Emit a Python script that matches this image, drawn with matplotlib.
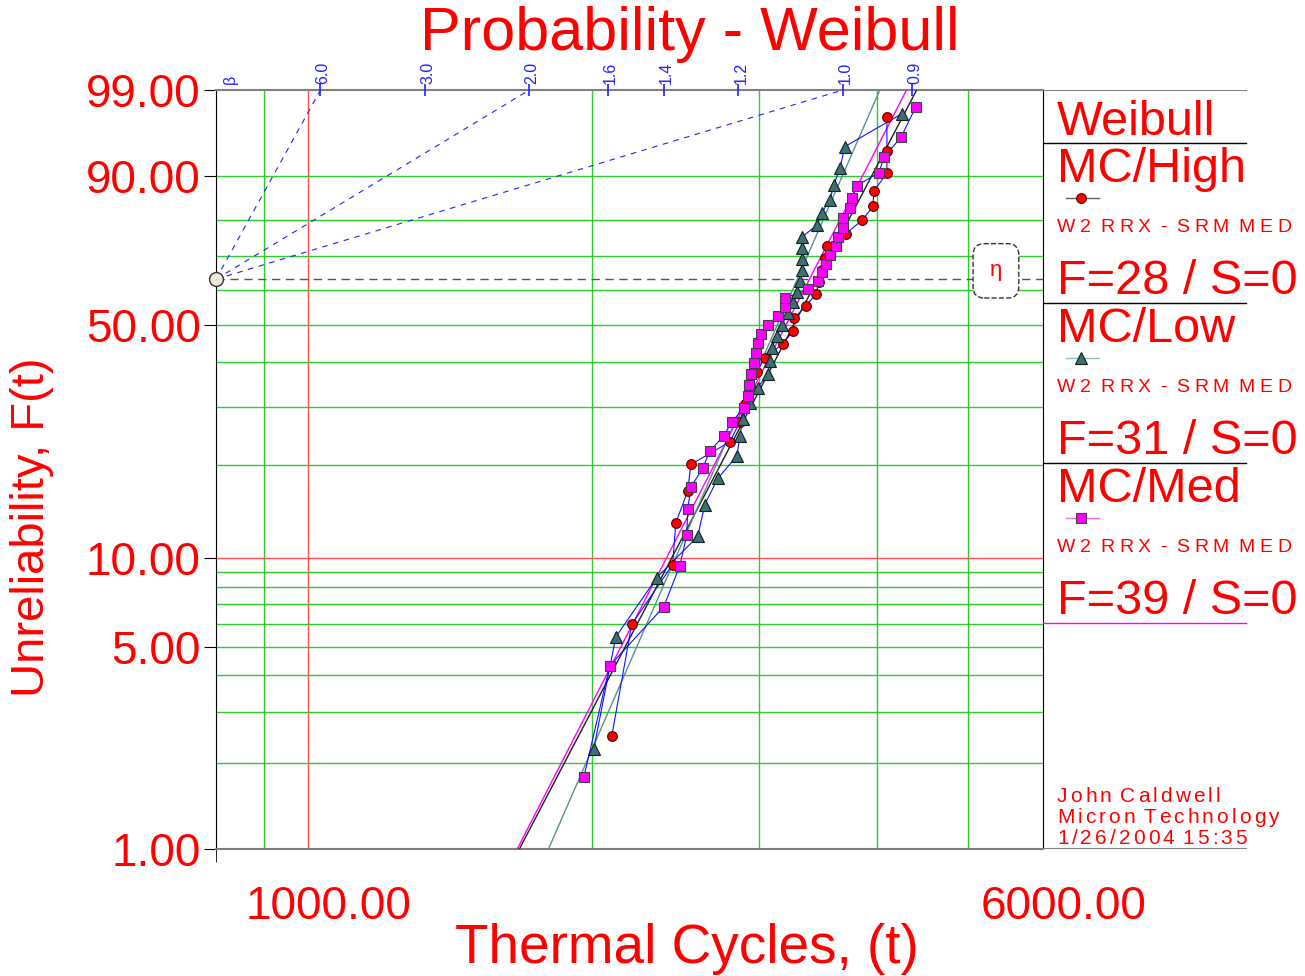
import numpy as np
import matplotlib
matplotlib.use('Agg')
import matplotlib.pyplot as plt
from matplotlib.transforms import ScaledTranslation

plt.rcParams['font.family'] = ['Liberation Sans', 'DejaVu Sans']

# failure times in thermal cycles, sorted
high_cycles = [2098, 2203, 2434, 2452, 2525, 2544, 2798, 2867, 2901, 2937,
               2988, 3047, 3183, 3263, 3270, 3366, 3450, 3475, 3500, 3526,
               3543, 3711, 3859, 3964, 3974, 4102, 4102, 4102]
low_cycles = [2008, 2119, 2342, 2587, 2632, 2717, 2846, 2867, 2887, 2937,
              2995, 3069, 3084, 3099, 3137, 3176, 3223, 3263, 3294, 3318,
              3334, 3334, 3334, 3334, 3458, 3500, 3570, 3604, 3658, 3703,
              4255]
med_cycles = [1960, 2088, 2381, 2476, 2519, 2525, 2544, 2619, 2664, 2757,
              2812, 2894, 2923, 2930, 2944, 2966, 2980, 2995, 3017, 3069,
              3145, 3199, 3199, 3381, 3468, 3502, 3535, 3570, 3622, 3640,
              3686, 3686, 3748, 3767, 3813, 4023, 4073, 4245, 4403]

# fitted Weibull lines (beta, eta)
high_fit = (6.33, 3465)
low_fit = (7.59, 3297)
med_fit = (6.46, 3397)

beta_scale = [6.0, 3.0, 2.0, 1.6, 1.4, 1.2, 1.0, 0.9]
beta_lines = [6.0, 2.0, 1.0]
y_ticks = [1, 5, 10, 50, 90, 99]
y_grid = [2, 3, 4, 5, 6, 7, 8, 9, 20, 30, 40, 50, 60, 70, 80, 90]
x_grid = [900, 2000, 3000, 4000, 5000]

RED = '#ff0000'
GREEN = '#2ecc2e'


def median_ranks(n):
    i = np.arange(1, n + 1)
    return 100 * (i - 0.3) / (n + 0.4)


def weib_fwd(F):
    F = np.clip(np.asarray(F, dtype=float), 1e-9, 100 - 1e-9)
    return np.log(-np.log(1 - F / 100))


def weib_inv(Y):
    Y = np.clip(np.asarray(Y, dtype=float), -30, 4)
    return 100 * (1 - np.exp(-np.exp(Y)))


def spaced_text(axis, x, y, s, gap, space, **kw):
    # draw a string letter by letter to get the wide letter spacing
    t = axis.text(x, y, s[0], va='bottom', **kw)
    extra = 0
    for ch in s[1:]:
        if ch == ' ':
            extra += space
            continue
        t = axis.annotate(ch, xy=(1, 0), xycoords=t, xytext=(gap + extra, 0),
                          textcoords='offset points', va='bottom',
                          annotation_clip=False, **kw)
        extra = 0


fig = plt.figure(figsize=(13.05, 9.76), dpi=100)
ax = fig.add_axes([216 / 1305, 1 - 849 / 976, 827 / 1305, 759 / 976])
ax.set_xscale('log')
ax.set_yscale('function', functions=(weib_fwd, weib_inv))
ax.set_xlim(800, 6000)
ax.set_ylim(1, 99)

# grid
for g in x_grid:
    ax.axvline(g, color=GREEN, lw=1, zorder=1)
ax.axvline(1000, color='#ff5050', lw=1, zorder=1)
for g in y_grid:
    ax.axhline(g, color=GREEN, lw=1, zorder=1)
ax.axhline(10, color='#ff5050', lw=1, zorder=1)

# eta line and box
F_eta = float(weib_inv(0))
ax.axhline(F_eta, color='#555555', lw=1, ls=(0, (6, 4)), zorder=2)
ax.annotate('η', xy=(5350, F_eta), xytext=(0, 6), textcoords='offset points',
            ha='center', va='center', color=RED, fontsize=16,
            bbox=dict(boxstyle='round,pad=0.75,rounding_size=0.5', fc='white',
                      ec='#333333', ls='--', lw=1), zorder=3)

# beta scale along the top
t0 = 800
Y99 = float(weib_fwd(99))
for b in beta_scale:
    tb = t0 * np.exp(Y99 / b)
    ax.plot([tb], [99], marker='|', ms=9, mew=1.2, color='#2020ff', clip_on=False, zorder=5)
    ax.annotate(f'{b:.1f}', xy=(tb, 99), xytext=(2, 4), textcoords='offset points',
                rotation=90, ha='center', va='bottom', color='#2020ff', fontsize=11.5,
                annotation_clip=False)
    if b in beta_lines:
        ax.plot([t0, tb], [F_eta, 99], color='#2020ff', lw=0.8, ls=(0, (5, 5)), zorder=2)
ax.annotate('β', xy=(t0, 99), xytext=(10, 4), textcoords='offset points',
            rotation=90, ha='center', va='bottom', color='#2020ff', fontsize=11.5,
            annotation_clip=False)
ax.plot([t0], [F_eta], 'o', ms=10, mfc='#ece9d8', mec='#333333', clip_on=False, zorder=6)

# fitted lines
F_ends = np.array([0.5, 99.5])
for (beta, eta), col in [(med_fit, '#ff00ff'), (high_fit, '#202020'), (low_fit, '#5a9090')]:
    t_ends = eta * (-np.log(1 - F_ends / 100)) ** (1 / beta)
    ax.plot(t_ends, F_ends, color=col, lw=1, zorder=3)

# data
series = [
    (high_cycles, dict(marker='o', ms=7, mfc='#ff0000', mec='#500000')),
    (low_cycles, dict(marker='^', ms=9, mfc='#3d6f73', mec='#102020')),
    (med_cycles, dict(marker='s', ms=7, mfc='#ff00ff', mec='#404040')),
]
for cyc, mk in series:
    ranks = median_ranks(len(cyc))
    ax.plot(cyc, ranks, color='#1010ff', lw=0.8, zorder=4)
for cyc, mk in series:
    ranks = median_ranks(len(cyc))
    ax.plot(cyc, ranks, ls='none', mew=0.8, zorder=5, **mk)

# axes styling
for side in ['left', 'right']:
    ax.spines[side].set_color('black')
for side in ['top', 'bottom']:
    ax.spines[side].set_color('#808080')
    ax.spines[side].set_linewidth(1.5)
ax.set_yticks(y_ticks)
ax.set_yticklabels([f'{v:.2f}' for v in y_ticks])
ax.yaxis.set_minor_locator(matplotlib.ticker.NullLocator())
ax.tick_params(axis='y', which='major', length=9, color='black', labelcolor=RED,
               labelsize=33, pad=2)
ax.set_xticks([1000, 6000])
ax.set_xticklabels(['1000.00', '6000.00'])
ax.set_xticks([800, 6000], minor=True)
ax.xaxis.set_minor_formatter(matplotlib.ticker.NullFormatter())
ax.tick_params(axis='x', which='major', length=0, labelcolor=RED, labelsize=33, pad=26)
ax.tick_params(axis='x', which='minor', length=9, color='black')
for lbl in ax.get_xticklabels():
    lbl.set_transform(lbl.get_transform() + ScaledTranslation(0.21, 0, fig.dpi_scale_trans))

fig.text(690 / 1305, 1 - 50 / 976, 'Probability - Weibull', color=RED, fontsize=44,
         ha='center', va='baseline')
fig.text(687 / 1305, 1 - 963 / 976, 'Thermal Cycles, (t)', color=RED, fontsize=39.5,
         ha='center', va='baseline')
fig.text(32 / 1305, 1 - 527 / 976, 'Unreliability, F(t)', color=RED, fontsize=34,
         ha='center', va='center', rotation=90)

# legend panel on the right
lax = fig.add_axes([1043 / 1305, 1 - 849 / 976, 262 / 1305, 759 / 976])
lax.set_xlim(0, 262)
lax.set_ylim(759, 0)
lax.axis('off')
lax.plot([0, 203], [0, 0], color='#808080', lw=1.5)
lax.plot([0, 203], [759, 759], color='#808080', lw=1.5)
lax.text(14, 45, 'Weibull', color=RED, fontsize=35, va='baseline')
lax.plot([0, 203], [53, 53], color='black', lw=1)
entries = [
    ('MC/High', 28, '#606060', series[0][1], 'black'),
    ('MC/Low', 31, '#8fbcbc', series[1][1], 'black'),
    ('MC/Med', 39, '#ff66ff', series[2][1], '#ff00ff'),
]
for k, (name, nf, lcol, mk, sepcol) in enumerate(entries):
    s = 53 + 160 * k
    lax.text(14, s + 39, name, color=RED, fontsize=35, va='baseline')
    lax.plot([23, 56], [s + 55, s + 55], color=lcol, lw=1)
    lax.plot([38], [s + 55], ls='none', mew=0.8, **mk)
    spaced_text(lax, 14, s + 93, 'W2 RRX - SRM MED', 3.3, 3.6, color=RED, fontsize=14)
    lax.text(14, s + 151, f'F={nf} / S=0', color=RED, fontsize=35, va='baseline')
    lax.plot([0, 203], [s + 160, s + 160], color=sepcol, lw=1)

for j, line in enumerate(['John Caldwell', 'Micron Technology', '1/26/2004 15:35']):
    spaced_text(lax, 14, 716 + 21 * j, line, 2.2, 3.6, color=RED, fontsize=15)

fig.savefig('out.png', dpi=100)
